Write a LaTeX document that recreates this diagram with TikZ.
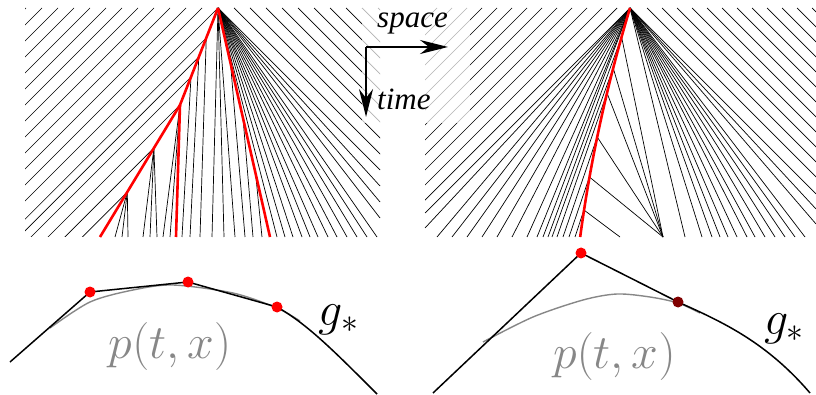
\RequirePackage{fix-cm}
\documentclass[tikz,border=0pt]{standalone}
\usepackage{fontspec}
\newfontfamily\axisfont{Liberation Serif}
\usetikzlibrary{arrows.meta}
\definecolor{pgray}{RGB}{135,135,135}
\definecolor{darkred}{RGB}{128,0,0}
\begin{document}
\begin{tikzpicture}[x=1pt,y=-1pt,
  ch/.style={line width=0.7pt},
  shock/.style={line width=2.6pt,red,line join=round},
  curveg/.style={line width=1.5pt,line join=round},
  curvep/.style={line width=1.4pt,pgray},
  rdot/.style={circle,inner sep=0pt,minimum size=11pt,fill=red},
  ddot/.style={circle,inner sep=0pt,minimum size=11pt,fill=darkred},
  bigmath/.style={inner sep=0pt,font=\fontsize{48}{52}\selectfont},
  axislab/.style={inner sep=0pt,anchor=base west,font=\axisfont\itshape\fontsize{31}{34}\selectfont},
  axisarrow/.style={line width=1.4pt,-{Stealth[length=28pt,width=14pt,inset=9pt]}}]
\useasboundingbox (0,0) rectangle (816,395);

% ---------------- left panel ----------------
\coordinate (A) at (218,8);
\coordinate (K) at (180,105);
\coordinate (L) at (100,237);
\coordinate (V) at (176,237);
\coordinate (R) at (270,237);
\coordinate (JL3) at (206.25,38);
\coordinate (JL2) at (198.8,57);
\coordinate (JL1) at (191,77);
\coordinate (J1) at (153.9,148);
\coordinate (J2) at (127.3,192);
\coordinate (JR1) at (230.5,63);
\coordinate (JR2) at (243,118);
\coordinate (JR3) at (255.5,173);
\begin{scope}
  \clip (25,8) rectangle (380,237);
  \foreach \k in {1,...,12} \draw[ch] ({218-16*\k},8) -- ++(-300,300);
  \foreach \k in {1,...,10} \draw[ch] ({218+16*\k},8) -- ++(300,300);
  \foreach \p in {A,JL3,JL2,JL1,K,J1,J2} \draw[ch] (\p) -- ++(-300,300);
\end{scope}
\foreach \p/\x in {JL3/200,JL2/190,JL1/182,K/163,K/170,J1/143,J1/150,J1/157,J2/115,J2/122,J2/128,A/212,A/224,A/235,JR1/245,JR2/253,JR3/262}
  \draw[ch] (\p) -- (\x,237);
\foreach \y in {170,186,202,218} \draw[ch] (A) -- (380,\y);
\foreach \x in {277,285,293,302,310,318,328,337,347,357,367,377} \draw[ch] (A) -- (\x,237);
\draw[shock] (A) -- (K) -- (L);
\draw[shock] (K) -- (V);
\draw[shock] (A) -- (R);

% ---------------- right panel ----------------
\coordinate (B) at (630,8);
\coordinate (F) at (663,237);
\coordinate (G) at (620,237);
\coordinate (Q1) at (621.6,37);
\coordinate (Q2) at (613.2,68);
\coordinate (Q3) at (607,93);
\coordinate (Q4) at (597.2,137);
\coordinate (Q5) at (589.4,177);
\coordinate (Q6) at (583.9,210);
\begin{scope}
  \clip (425,8) rectangle (816,237);
  \foreach \k in {0,...,13} \draw[ch] ({617-15*\k},8) -- ++(-300,300);
  \foreach \k in {0,...,11} \draw[ch] ({647+15*\k},8) -- ++(300,300);
\end{scope}
\foreach \y in {213,228} \draw[ch] (B) -- (425,\y);
\foreach \x in {437,452,467,482,497,512,527,537,543} \draw[ch] (B) -- (\x,237);
\foreach \q/\x in {Q1/548,Q2/552,Q3/557,Q4/563,Q5/569,Q6/575} \draw[ch] (\q) -- (\x,237);
\foreach \y in {194,209,224} \draw[ch] (B) -- (816,\y);
\foreach \x in {685,702,712,720,728,737,747,755,765,775,785,795,805} \draw[ch] (B) -- (\x,237);
\foreach \q in {Q1,Q2,Q3,Q4,Q5} \draw[ch] (\q) -- (F);
\draw[ch] (Q6) -- (G);
\draw[shock] plot[domain=0:229,samples=50] ({630-0.3014*\x+0.000363*\x*\x},{8+\x});

% ---------------- axes label ----------------
\fill[white,opacity=0.7] (362,0) rectangle (470,123);
\coordinate (O) at (366,47);
\coordinate (Sx) at (448,47);
\coordinate (Tx) at (366,117);
\draw[axisarrow] (O) -- (Sx);
\draw[axisarrow] (O) -- (Tx);
\node[axislab] (space) at (377,28) {space};
\node[axislab] (time) at (377,110) {time};

% ---------------- bottom left ----------------
\draw[curvep] plot[smooth] coordinates {(50,328) (90,302) (133,290) (173,285) (233,293) (277,308) (300,321)};
\draw[curveg] (10,362) -- (90,292) -- (188,282) -- (277,307) .. controls (307,324) and (332,349) .. (377,394);
\node[rdot] (d1) at (90,292) {};
\node[rdot] (d2) at (188,282) {};
\node[rdot] (d3) at (277,307) {};
\node[bigmath,text=pgray] (pL) at (170,346.5) {$p(t,x)$};
\node[bigmath] (gL) at (338.5,320) {$g_*$};

% ---------------- bottom right ----------------
\draw[curvep] plot[smooth] coordinates {(483,342) (533,317) (583,300) (617,294) (650,297) (678,303) (700,313)};
\draw[curveg] (433,393) -- (581,253) -- (678,302) .. controls (722,321.8) and (766,341.6) .. (810,393);
\node[rdot] (d4) at (581,253) {};
\node[ddot] (d5) at (678,302) {};
\node[bigmath,text=pgray] (pR) at (614.5,356.5) {$p(t,x)$};
\node[bigmath] (gR) at (784,328.5) {$g_*$};
\end{tikzpicture}
\end{document}
